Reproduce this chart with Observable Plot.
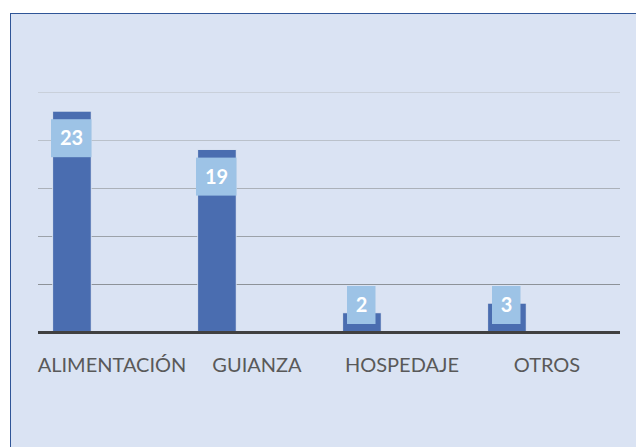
<!DOCTYPE html>
<html>
<head>
<meta charset="utf-8">
<script src="https://cdn.jsdelivr.net/npm/d3@7"></script>
<script src="https://cdn.jsdelivr.net/npm/@observablehq/plot@0.6"></script>
<style>
  html, body { margin: 0; padding: 0; background: #ffffff; width: 636px; height: 447px; overflow: hidden; }
  #panel { position: absolute; left: 10px; top: 13px; width: 640px; height: 450px;
           background: #dae3f3; border-left: 1.5px solid #2f5597; border-top: 1.5px solid #2f5597; }
  #chart { position: absolute; left: 0; top: 0; }
  #chart svg { background: transparent; }
</style>
</head>
<body>
<div id="panel"></div>
<div id="chart"></div>
<script>
const categories = ["ALIMENTACIÓN", "GUIANZA", "HOSPEDAJE", "OTROS"];
const values = [23, 19, 2, 3];
const gridTicks = [5, 10, 15, 20, 25];

const data = categories.map((c, i) => ({ cat: c, value: values[i] }));

// pixel-based constants converted through the y scale (9.6px per unit)
const pxPerUnit = (332 - 92) / 25;
const boxH = 38 / pxPerUnit;
const boxTop = d => Math.max(d.value - 8 / pxPerUnit, (8 + 38) / pxPerUnit);

const gridColor = d3.scaleLinear().domain([5, 25]).range(["#8d9298", "#c9d0da"]);

const twoDigit = data.filter(d => String(d.value).length > 1);
const oneDigit = data.filter(d => String(d.value).length === 1);

const chart = Plot.plot({
  width: 636,
  height: 447,
  marginLeft: 38,
  marginRight: 16,
  marginTop: 92,
  marginBottom: 115,
  style: { background: "transparent", fontFamily: "Lato, 'Liberation Sans', sans-serif" },
  x: { type: "band", domain: categories, padding: 0, axis: null },
  y: { domain: [0, 25], axis: null },
  marks: [
    Plot.ruleY(gridTicks, { y: d => d, stroke: d => gridColor(d), strokeWidth: 1.2 }),
    Plot.barY(data, { x: "cat", y: "value", fill: "#4a6db0", stroke: "#e4ebf5", strokeWidth: 0.8,
                      insetLeft: 13.7, insetRight: 92.8 }),
    Plot.ruleY([0], { stroke: "#404040", strokeWidth: 3 }),
    Plot.rectY(twoDigit, { x: "cat", y1: d => boxTop(d) - boxH, y2: d => boxTop(d), fill: "#9dc3e6",
                           insetLeft: 12, insetRight: 92.5 }),
    Plot.rectY(oneDigit, { x: "cat", y1: d => boxTop(d) - boxH, y2: d => boxTop(d), fill: "#9dc3e6",
                           insetLeft: 18, insetRight: 98.5 }),
    Plot.text(data, { x: "cat", y: d => boxTop(d) - boxH / 2, text: d => String(d.value), dx: -40.5,
                      fill: "#ffffff", fontWeight: "bold", fontSize: 20, lineAnchor: "middle" }),
    Plot.text(data, { x: "cat", y: 0, text: "cat", dy: 33, fill: "#595959", fontSize: 20,
                      lineAnchor: "middle" })
  ]
});
document.getElementById("chart").appendChild(chart);
</script>
</body>
</html>
